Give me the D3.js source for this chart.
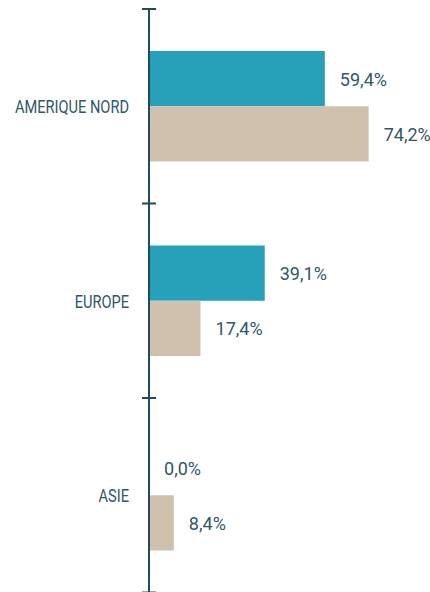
<!DOCTYPE html>
<html>
<head>
<meta charset="utf-8">
<script src="https://cdn.jsdelivr.net/npm/d3@7"></script>
<style>
  body { margin: 0; background: #fff; }
  text { font-family: Roboto, "Liberation Sans", sans-serif; fill: #2f5868; }
</style>
</head>
<body>
<script>
// data
const categories = ["AMERIQUE NORD", "EUROPE", "ASIE"];
const series = ["s1", "s2"];
const valuesS1 = [59.4, 39.1, 0.0];
const valuesS2 = [74.2, 17.4, 8.4];

const colors = {s1: "#27a1ba", s2: "#cfc1ae"};

const width = 430, height = 592;
const axisX = 149;
// no condensed font installed, so squeeze the glyphs a bit
const squeezeVal = 0.95, squeezeCat = 0.77;

const svg = d3.select("body").append("svg")
    .attr("width", width)
    .attr("height", height);

// scales
const y = d3.scaleBand()
    .domain(categories)
    .range([9, 592.5])
    .padding(0);

const yInner = d3.scaleBand()
    .domain(series)
    .range([0, y.bandwidth()])
    .paddingInner(0)
    .paddingOuter(0.76);

const x = d3.scaleLinear()
    .domain([0, 100])
    .range([axisX, axisX + 296]);

const rows = categories.map(function (c, i) {
    return {cat: c, s1: valuesS1[i], s2: valuesS2[i]};
});

const fmt = function (v) {
    return v.toFixed(1).replace(".", ",") + "%";
};

// bars
const g = svg.selectAll(".cat")
    .data(rows)
    .enter().append("g")
    .attr("class", "cat")
    .attr("transform", function (d) { return "translate(0," + y(d.cat) + ")"; });

g.selectAll("rect")
    .data(function (d) { return series.map(function (s) { return {key: s, value: d[s]}; }); })
    .enter().append("rect")
    .attr("x", x(0))
    .attr("y", function (d) { return yInner(d.key); })
    .attr("width", function (d) { return x(d.value) - x(0); })
    .attr("height", yInner.bandwidth())
    .attr("fill", function (d) { return colors[d.key]; });

// value labels
g.selectAll(".val")
    .data(function (d) { return series.map(function (s) { return {key: s, value: d[s]}; }); })
    .enter().append("text")
    .attr("class", "val")
    .attr("transform", function (d) {
        return "translate(" + (x(d.value) + 15) + "," + (yInner(d.key) + yInner.bandwidth() / 2) + ") scale(" + squeezeVal + ",1)";
    })
    .attr("dy", "0.37em")
    .style("font-size", "19px")
    .text(function (d) { return fmt(d.value); });

// axis line + tick marks at the category boundaries
svg.append("line")
    .attr("x1", axisX).attr("x2", axisX)
    .attr("y1", 9).attr("y2", height)
    .attr("stroke", "#1f4b5c")
    .attr("stroke-width", 2);

const boundaries = categories.map(function (c) { return y(c); }).concat([y.range()[1]]);
svg.selectAll(".tick-mark")
    .data(boundaries)
    .enter().append("line")
    .attr("class", "tick-mark")
    .attr("x1", axisX - 7).attr("x2", axisX + 7)
    .attr("y1", function (d) { return d; })
    .attr("y2", function (d) { return d; })
    .attr("stroke", "#1f4b5c")
    .attr("stroke-width", 2);

// category labels
svg.selectAll(".cat-label")
    .data(categories)
    .enter().append("text")
    .attr("class", "cat-label")
    .attr("transform", function (d) {
        return "translate(" + (axisX - 20) + "," + (y(d) + y.bandwidth() / 2) + ") scale(" + squeezeCat + ",1)";
    })
    .attr("dy", "0.37em")
    .attr("text-anchor", "end")
    .style("font-size", "19px")
    .text(function (d) { return d; });
</script>
</body>
</html>
